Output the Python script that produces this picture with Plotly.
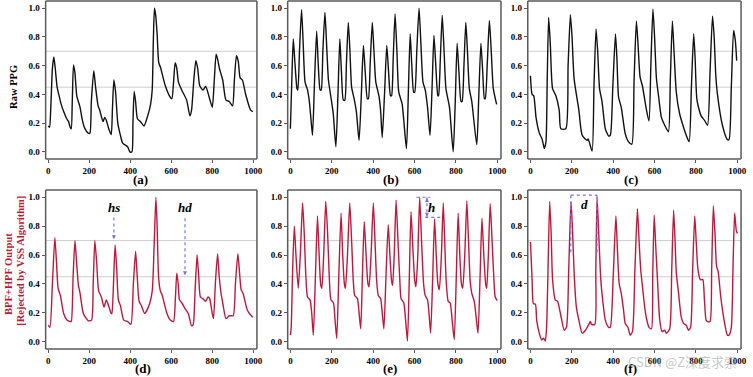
import plotly.graph_objects as go
from plotly.subplots import make_subplots

# ---------------- data ----------------
panel_a = [(0,0.18),(6,0.17),(12,0.3),(20,0.58),(27,0.66),(34,0.58),(43,0.45),(51,0.40),(63,0.33),(75,0.28),(90,0.23),(99,0.21),(107,0.17),(112,0.16),(117,0.35),(123,0.605),(130,0.55),(139,0.39),(155,0.31),(165,0.23),(176,0.17),(195,0.13),(203,0.13),(210,0.35),(222,0.565),(230,0.46),(243,0.32),(251,0.29),(267,0.21),(275,0.24),(283,0.22),(295,0.16),(307,0.12),(313,0.3),(320,0.50),(328,0.42),(339,0.2),(351,0.12),(363,0.06),(387,0.035),(398,0.0),(408,0.0),(413,0.2),(419,0.42),(426,0.35),(435,0.23),(450,0.21),(467,0.18),(485,0.25),(499,0.33),(507,0.43),(513,0.8),(518,1.0),(524,0.95),(531,0.82),(539,0.62),(547,0.59),(571,0.46),(595,0.38),(603,0.37),(611,0.48),(619,0.62),(627,0.58),(635,0.485),(651,0.43),(675,0.36),(691,0.25),(699,0.29),(710,0.5),(720,0.635),(729,0.58),(739,0.46),(755,0.43),(768,0.455),(787,0.37),(800,0.31),(810,0.5),(819,0.68),(827,0.64),(835,0.58),(851,0.5),(867,0.36),(883,0.35),(899,0.32),(908,0.5),(918,0.67),(927,0.63),(936,0.515),(947,0.5),(963,0.40),(987,0.29),(998,0.28)]

panel_b = [(0,0.16),(7,0.5),(14,0.785),(22,0.62),(32,0.44),(36,0.43),(44,0.7),(54,0.99),(62,0.75),(71,0.485),(83,0.43),(91,0.36),(100,0.22),(107,0.115),(117,0.5),(127,0.84),(135,0.6),(144,0.43),(149,0.43),(157,0.7),(167,0.97),(175,0.75),(184,0.5),(196,0.38),(207,0.27),(220,0.035),(230,0.4),(239,0.785),(247,0.55),(256,0.36),(263,0.36),(271,0.62),(280,0.9),(288,0.7),(296,0.45),(308,0.37),(319,0.28),(332,0.08),(343,0.4),(353,0.74),(362,0.55),(372,0.37),(377,0.37),(386,0.62),(396,0.9),(404,0.7),(413,0.485),(428,0.39),(436,0.29),(444,0.1),(455,0.4),(466,0.74),(475,0.55),(484,0.39),(489,0.39),(497,0.65),(506,0.96),(515,0.7),(524,0.415),(540,0.335),(561,0.023),(570,0.4),(579,0.82),(587,0.6),(596,0.415),(601,0.415),(611,0.7),(622,1.0),(631,0.75),(641,0.485),(652,0.43),(663,0.31),(675,0.115),(685,0.45),(694,0.81),(703,0.6),(713,0.39),(716,0.39),(725,0.65),(734,0.95),(743,0.7),(752,0.44),(769,0.31),(787,0.0),(797,0.35),(806,0.755),(815,0.55),(825,0.35),(830,0.35),(839,0.6),(848,0.9),(856,0.7),(865,0.44),(877,0.35),(901,0.05),(911,0.4),(921,0.755),(930,0.55),(938,0.37),(942,0.37),(952,0.62),(962,0.915),(971,0.7),(981,0.44),(997,0.33)]

panel_c = [(0,0.53),(8,0.40),(16,0.39),(27,0.24),(43,0.13),(56,0.09),(67,0.023),(75,0.07),(81,0.5),(88,0.935),(96,0.75),(107,0.44),(123,0.39),(139,0.29),(147,0.16),(171,0.16),(182,0.6),(193,0.955),(201,0.8),(211,0.51),(234,0.29),(250,0.115),(274,0.08),(279,0.09),(298,0.005),(307,0.45),(317,0.855),(325,0.7),(334,0.44),(346,0.35),(362,0.16),(378,0.11),(386,0.115),(398,0.45),(411,0.82),(418,0.65),(426,0.38),(439,0.31),(458,0.127),(474,0.07),(490,0.053),(501,0.5),(512,0.91),(520,0.75),(530,0.52),(541,0.46),(561,0.29),(573,0.215),(582,0.6),(592,0.995),(600,0.8),(609,0.51),(620,0.38),(633,0.24),(649,0.185),(667,0.14),(676,0.5),(686,0.91),(694,0.7),(705,0.415),(721,0.265),(737,0.185),(753,0.115),(767,0.07),(778,0.45),(789,0.82),(796,0.65),(805,0.36),(825,0.25),(841,0.22),(856,0.185),(868,0.55),(880,0.945),(888,0.8),(896,0.53),(904,0.40),(928,0.185),(952,0.085),(960,0.085),(971,0.45),(982,0.845),(990,0.78),(997,0.635)]

panel_d = [(0,0.115),(8,0.10),(20,0.4),(32,0.72),(40,0.55),(48,0.37),(59,0.32),(75,0.196),(91,0.15),(107,0.14),(112,0.14),(121,0.45),(130,0.70),(138,0.55),(147,0.39),(155,0.335),(171,0.196),(195,0.145),(211,0.15),(219,0.4),(227,0.70),(236,0.55),(246,0.35),(259,0.31),(272,0.24),(283,0.29),(294,0.25),(307,0.196),(310,0.196),(318,0.4),(326,0.67),(334,0.5),(342,0.29),(352,0.25),(368,0.15),(387,0.14),(403,0.12),(415,0.4),(426,0.625),(434,0.45),(443,0.28),(454,0.25),(470,0.196),(491,0.25),(507,0.35),(516,0.65),(525,1.0),(531,0.8),(538,0.45),(547,0.35),(555,0.325),(579,0.196),(595,0.15),(611,0.14),(620,0.3),(627,0.475),(634,0.4),(640,0.29),(651,0.27),(667,0.23),(683,0.196),(699,0.11),(707,0.12),(716,0.35),(726,0.60),(734,0.45),(742,0.31),(752,0.30),(768,0.28),(779,0.31),(787,0.30),(800,0.196),(806,0.16),(815,0.4),(826,0.61),(834,0.45),(843,0.335),(851,0.27),(867,0.16),(883,0.18),(902,0.18),(913,0.4),(925,0.61),(933,0.48),(941,0.36),(950,0.335),(971,0.22),(987,0.185),(998,0.17)]

panel_e = [(0,0.046),(4,0.1),(11,0.5),(19,0.80),(27,0.6),(38,0.37),(48,0.6),(59,0.96),(67,0.75),(75,0.45),(83,0.31),(95,0.29),(103,0.2),(111,0.046),(121,0.45),(131,0.87),(139,0.6),(147,0.39),(152,0.37),(161,0.6),(171,0.97),(180,0.75),(188,0.45),(196,0.29),(208,0.27),(216,0.15),(224,0.023),(234,0.45),(245,0.89),(253,0.6),(261,0.40),(266,0.37),(276,0.6),(287,0.96),(296,0.7),(304,0.425),(311,0.32),(324,0.30),(332,0.2),(340,0.09),(348,0.45),(357,0.83),(366,0.6),(375,0.40),(380,0.38),(390,0.6),(401,0.96),(409,0.7),(417,0.425),(425,0.32),(436,0.30),(444,0.2),(452,0.09),(462,0.45),(473,0.81),(481,0.6),(489,0.425),(494,0.39),(502,0.6),(511,0.98),(520,0.7),(529,0.425),(535,0.30),(548,0.27),(557,0.15),(566,0.005),(575,0.45),(583,0.90),(592,0.65),(601,0.425),(607,0.38),(616,0.6),(625,1.0),(634,0.7),(644,0.40),(652,0.32),(663,0.29),(671,0.18),(678,0.06),(688,0.45),(697,0.85),(705,0.6),(713,0.40),(720,0.36),(730,0.6),(739,0.96),(746,0.7),(753,0.425),(763,0.28),(772,0.27),(782,0.15),(792,0.016),(802,0.45),(811,0.89),(819,0.6),(827,0.40),(833,0.37),(843,0.6),(853,0.975),(861,0.7),(869,0.425),(877,0.335),(889,0.28),(898,0.17),(907,0.058),(917,0.45),(926,0.855),(935,0.6),(944,0.40),(949,0.37),(957,0.6),(966,0.955),(975,0.7),(984,0.425),(990,0.31),(1000,0.285)]

panel_f = [(0,0.69),(8,0.43),(14,0.265),(24,0.26),(30,0.15),(43,0.058),(54,0.012),(62,0.025),(67,0.016),(72,0.005),(78,0.10),(85,0.5),(93,0.97),(100,0.75),(107,0.43),(120,0.29),(131,0.28),(147,0.18),(163,0.08),(174,0.10),(185,0.5),(196,0.97),(204,0.75),(212,0.45),(222,0.24),(234,0.15),(250,0.06),(266,0.08),(274,0.10),(282,0.12),(290,0.14),(295,0.12),(311,0.12),(316,0.5),(322,1.0),(330,0.75),(340,0.43),(349,0.29),(362,0.15),(378,0.10),(386,0.10),(400,0.45),(413,0.87),(420,0.65),(429,0.40),(439,0.335),(450,0.22),(458,0.127),(471,0.10),(482,0.046),(493,0.07),(505,0.5),(517,0.92),(525,0.7),(533,0.50),(545,0.335),(553,0.23),(561,0.16),(573,0.10),(585,0.09),(591,0.45),(598,0.875),(606,0.65),(614,0.43),(625,0.15),(636,0.07),(649,0.08),(657,0.058),(673,0.09),(683,0.5),(692,0.91),(699,0.7),(705,0.48),(716,0.335),(729,0.17),(740,0.127),(753,0.115),(764,0.08),(774,0.10),(784,0.5),(794,0.87),(801,0.7),(809,0.51),(821,0.43),(833,0.43),(841,0.29),(849,0.15),(856,0.14),(868,0.14),(876,0.5),(884,0.94),(892,0.75),(900,0.52),(907,0.49),(920,0.31),(936,0.15),(952,0.046),(960,0.046),(971,0.10),(979,0.5),(987,0.89),(995,0.77),(1000,0.75)]

x_ticks = [0, 200, 400, 600, 800, 1000]
y_ticks = [0.0, 0.2, 0.4, 0.6, 0.8, 1.0]
y_tick_text = ["0.0", "0.2", "0.4", "0.6", "0.8", "1.0"]
ref_levels = [0.7, 0.45]
panel_labels = ["(a)", "(b)", "(c)", "(d)", "(e)", "(f)"]

# ---------------- figure ----------------
W, H = 753, 377
SERIF = "Liberation Serif"
BLACK = "#111111"
RED = "#C0183C"
BLUE = "#7474F2"
FRAME = "#5a5a5a"

fig = make_subplots(rows=2, cols=3)
panels = [panel_a, panel_b, panel_c, panel_d, panel_e, panel_f]
for i, p in enumerate(panels):
    r, c = i // 3 + 1, i % 3 + 1
    xs = [q[0] for q in p]
    ys = [q[1] for q in p]
    fig.add_trace(go.Scatter(x=xs, y=ys, mode="lines",
                             line=dict(color=BLACK if r == 1 else RED, width=1.4,
                                       shape="spline", smoothing=0.6),
                             showlegend=False, hoverinfo="skip"), row=r, col=c)

tick_font = dict(family=SERIF, size=9, color="black", weight="bold")
fig.update_xaxes(range=[-13, 1018], tickmode="array", tickvals=x_ticks,
                 ticks="outside", ticklen=3, tickwidth=1.2, tickcolor=FRAME,
                 showline=False, showgrid=False, zeroline=False, tickfont=tick_font)
fig.update_yaxes(range=[-0.05, 1.05], tickmode="array", tickvals=y_ticks, ticktext=y_tick_text,
                 ticks="outside", ticklen=3, tickwidth=1.2, tickcolor=FRAME,
                 showline=False, showgrid=False, zeroline=False, tickfont=tick_font)

col_px = [(46, 259), (290, 505), (532, 747)]
row_px = [(1, 159), (190, 349)]
dom = {}
for i in range(6):
    r, c = i // 3, i % 3
    sfx = "" if i == 0 else str(i + 1)
    x0, x1 = col_px[c]
    t, b = row_px[r]
    dom["xaxis" + sfx] = dict(domain=[x0 / W, x1 / W])
    dom["yaxis" + sfx] = dict(domain=[1 - b / H, 1 - t / H])
    for lv in ref_levels:
        fig.add_shape(type="line", xref="x" + sfx + " domain", yref="y" + sfx,
                      x0=0, x1=1, y0=lv, y1=lv,
                      line=dict(color="#cfcfcf", width=1), layer="below")
    # frame drawn as four paper-referenced line segments
    for (ax0, ay0, ax1, ay1) in [(x0, t, x1, t), (x0, b, x1, b), (x0, t, x0, b), (x1, t, x1, b)]:
        fig.add_shape(type="line", xref="paper", yref="paper",
                      x0=ax0 / W, x1=ax1 / W, y0=1 - ay0 / H, y1=1 - ay1 / H,
                      line=dict(color=FRAME, width=1.5), layer="above")
fig.update_layout(**dom)

def paper_text(text, px, py, font, angle=0):
    fig.add_annotation(text=text, x=px / W, y=1 - py / H, xref="paper", yref="paper",
                       xanchor="center", yanchor="middle", showarrow=False,
                       textangle=angle, font=font)

# panel labels
label_pos = [(142, 179), (394, 179), (636, 179), (144, 368), (393, 368), (636, 368)]
for lab, (px, py) in zip(panel_labels, label_pos):
    paper_text(lab, px, py, dict(family=SERIF, size=13, color="black", weight="bold"))

# y titles
paper_text("Raw PPG", 13, 87, dict(family=SERIF, size=10.5, color="black", weight="bold"), -90)
paper_text("BPF+HPF Output", 8, 274, dict(family=SERIF, size=10.5, color=RED, weight="bold"), -90)
paper_text("[Rejected by VSS Algorithm]", 20, 261, dict(family=SERIF, size=10.5, color=RED, weight="bold"), -90)

# ---------- markup helpers ----------
def dot_line(xr, yr, x0, y0, x1, y1):
    fig.add_shape(type="line", xref=xr, yref=yr, x0=x0, y0=y0, x1=x1, y1=y1,
                  line=dict(color=BLUE, width=1.2, dash="dot"))

def head(xr, yr, x, y, ax, ay):
    fig.add_annotation(x=x, y=y, xref=xr, yref=yr, ax=ax, ay=ay, text="", showarrow=True,
                       arrowhead=2, arrowsize=0.8, arrowwidth=1, arrowcolor=BLUE)

tfont = dict(family=SERIF, size=13, color="black", weight="bold", style="italic")
# (d): hs / hd
dot_line("x4", "y4", 320, 0.86, 320, 0.73)
head("x4", "y4", 320, 0.71, 0, -5)
fig.add_annotation(text="hs", x=320, y=0.93, xref="x4", yref="y4", showarrow=False, font=tfont)
dot_line("x4", "y4", 667, 0.855, 667, 0.48)
head("x4", "y4", 667, 0.46, 0, -5)
fig.add_annotation(text="hd", x=667, y=0.93, xref="x4", yref="y4", showarrow=False, font=tfont)

# (e): h
dot_line("x5", "y5", 609, 1.0, 676, 1.0)
dot_line("x5", "y5", 652, 0.86, 728, 0.86)
dot_line("x5", "y5", 660, 1.0, 660, 0.86)
head("x5", "y5", 660, 0.995, 0, 5)
head("x5", "y5", 660, 0.865, 0, -5)
fig.add_annotation(text="h", x=682, y=0.93, xref="x5", yref="y5", showarrow=False, font=tfont)

# (f): d
dot_line("x6", "y6", 195, 1.015, 322, 1.015)
dot_line("x6", "y6", 195, 0.62, 195, 1.015)
dot_line("x6", "y6", 322, 0.62, 322, 1.015)
fig.add_annotation(text="d", x=263, y=0.95, xref="x6", yref="y6", showarrow=False, font=tfont)

# watermark
paper_text("CSDN @Z深度求索", 688, 361,
           dict(family="Noto Sans CJK SC", size=13, color="rgba(150,150,150,0.55)"))

fig.update_layout(width=W, height=H, margin=dict(l=0, r=0, t=0, b=0),
                  paper_bgcolor="white", plot_bgcolor="white")
fig.write_html("out.html", config={"displayModeBar": False},
               post_script="document.body.style.margin='0';")
